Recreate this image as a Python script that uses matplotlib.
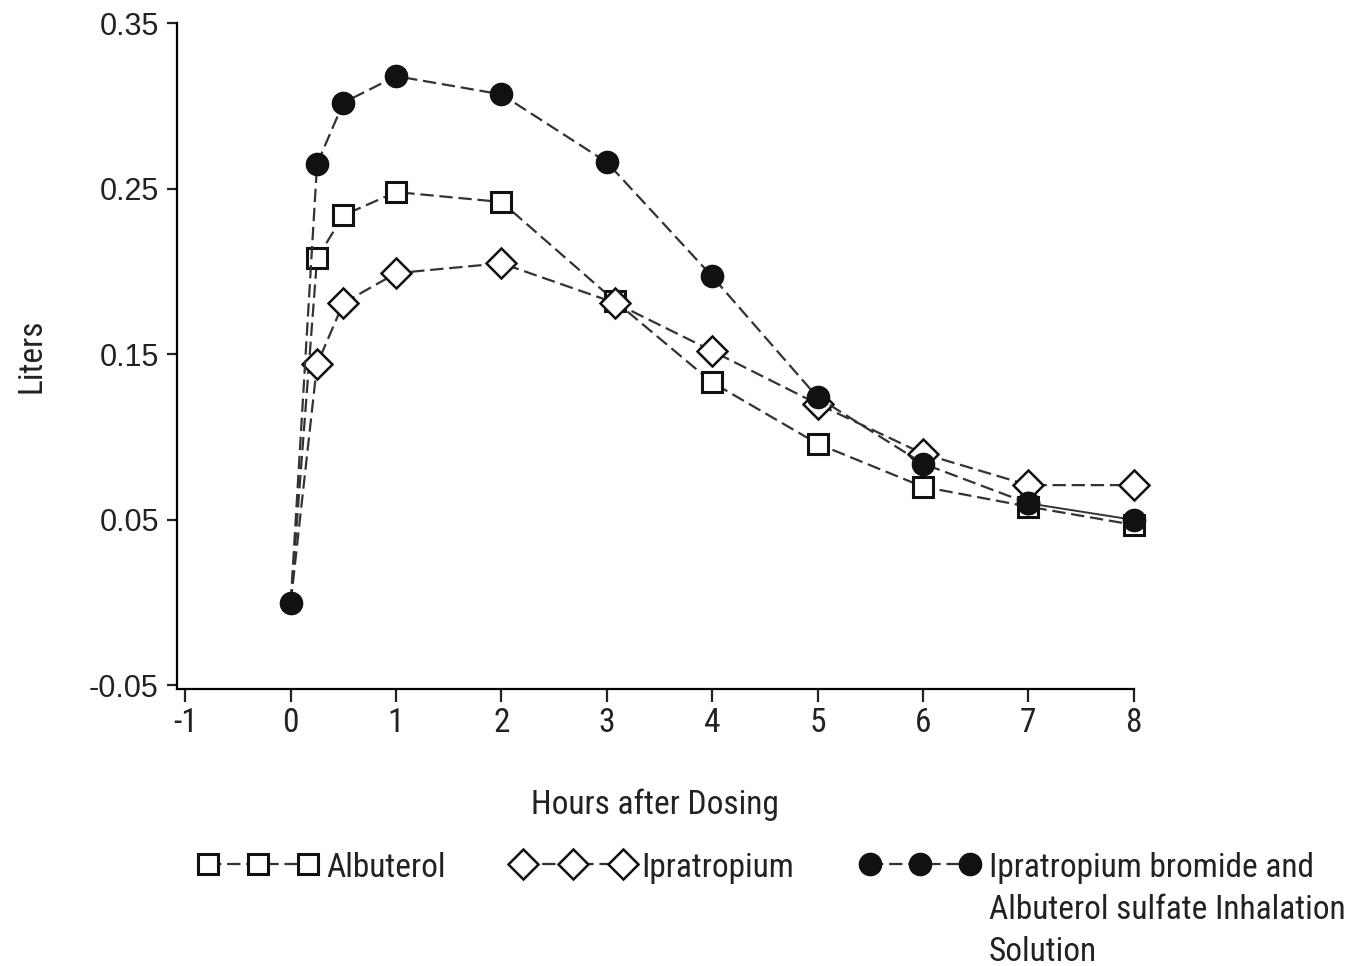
import matplotlib
matplotlib.use('Agg')
import matplotlib.pyplot as plt

# FEV1 change from baseline (liters) by hours after dosing.
hours = [0, 0.25, 0.5, 1, 2, 3, 4, 5, 6, 7, 8]
hoursShifted = [0, 0.25, 0.5, 1, 2, 3.08, 4, 5, 6, 7, 8]
albuterol = [0.0, 0.208, 0.234, 0.248, 0.242, 0.182, 0.133, 0.096, 0.070, 0.058, 0.047]
ipratropium = [0.0, 0.144, 0.181, 0.199, 0.205, 0.181, 0.152, 0.120, 0.090, 0.071, 0.071]
combination = [0.0, 0.265, 0.302, 0.318, 0.307, 0.266, 0.197, 0.124, 0.084, 0.060, 0.050]

xTicks = [-1, 0, 1, 2, 3, 4, 5, 6, 7, 8]
yTicks = [-0.05, 0.05, 0.15, 0.25, 0.35]
labels = ['Albuterol',
          'Ipratropium',
          'Ipratropium bromide and\nAlbuterol sulfate Inhalation\nSolution']

narrow = ['Liberation Sans Narrow', 'Roboto Condensed', 'DejaVu Sans Condensed',
          'DejaVu Sans']
plt.rcParams['font.family'] = narrow

lineColor = '#333333'
markColor = '#111111'
dash = (0, (6, 2.6))

fig = plt.figure(figsize=(13.61, 9.66), dpi=100)
ax = fig.add_axes([0.130, 0.287, 0.703, 0.689])

# Markers at hour 0 sit under the combination marker, so skip them.
h1, = ax.plot(hoursShifted, albuterol, linestyle=dash, color=lineColor, lw=1.6,
              marker='s', markersize=14, markerfacecolor='white',
              markeredgecolor=markColor, markeredgewidth=2.2,
              markevery=list(range(1, len(hours))), clip_on=False,
              label=labels[0])
h2, = ax.plot(hoursShifted, ipratropium, linestyle=dash, color=lineColor, lw=1.6,
              marker='D', markersize=15, markerfacecolor='white',
              markeredgecolor=markColor, markeredgewidth=1.8,
              markevery=list(range(1, len(hours))), clip_on=False,
              label=labels[1])
h3, = ax.plot(hours[:-1], combination[:-1], linestyle=dash, color=lineColor,
              lw=1.6, marker='o', markersize=16, markerfacecolor=markColor,
              markeredgecolor=markColor, clip_on=False, label=labels[2])
# The last combination segment is drawn solid in the original.
ax.plot(hours[-2:], combination[-2:], linestyle='-', color=lineColor, lw=1.4,
        marker='o', markersize=16, markerfacecolor=markColor,
        markeredgecolor=markColor, clip_on=False)

ax.set_xlim(-1.08, 8)
ax.set_ylim(-0.052, 0.35)
ax.set_xticks(xTicks)
ax.set_xticklabels([str(t) for t in xTicks])
ax.set_yticks(yTicks)
ax.set_yticklabels(['%.2f' % t for t in yTicks], family=['Liberation Sans', 'DejaVu Sans'])

for side in ['top', 'right']:
    ax.spines[side].set_visible(False)
for side in ['left', 'bottom']:
    ax.spines[side].set_linewidth(1.6)
ax.tick_params(axis='both', direction='out', width=1.6, colors='#222222')
ax.tick_params(axis='x', length=9, labelsize=24, pad=4)
ax.tick_params(axis='y', length=7, labelsize=22, pad=6)

ax.set_xlabel('Hours after Dosing', fontsize=24, color='#222222', labelpad=36)
ax.set_ylabel('Liters', fontsize=24, color='#222222', labelpad=30)

leg = fig.legend(handles=[h1, h2, h3], labels=labels, loc='upper left',
                 bbox_to_anchor=(0.1455, 0.118), ncol=3, frameon=False,
                 fontsize=24, numpoints=3, handlelength=3.6, handletextpad=0.25,
                 columnspacing=2.0, labelspacing=0.1, borderpad=0,
                 borderaxespad=0)

# Put the multi-line label's marker next to its first line.
try:
    leg._legend_handle_box.align = 'top'
    for col in leg._legend_handle_box.get_children():
        col.align = 'top'
        for item in col.get_children():
            item.align = 'top'
except AttributeError:
    pass

for text in leg.get_texts():
    text.set_color('#222222')
    text.set_linespacing(1.4)

fig.savefig('out.png', dpi=100, facecolor='white')
